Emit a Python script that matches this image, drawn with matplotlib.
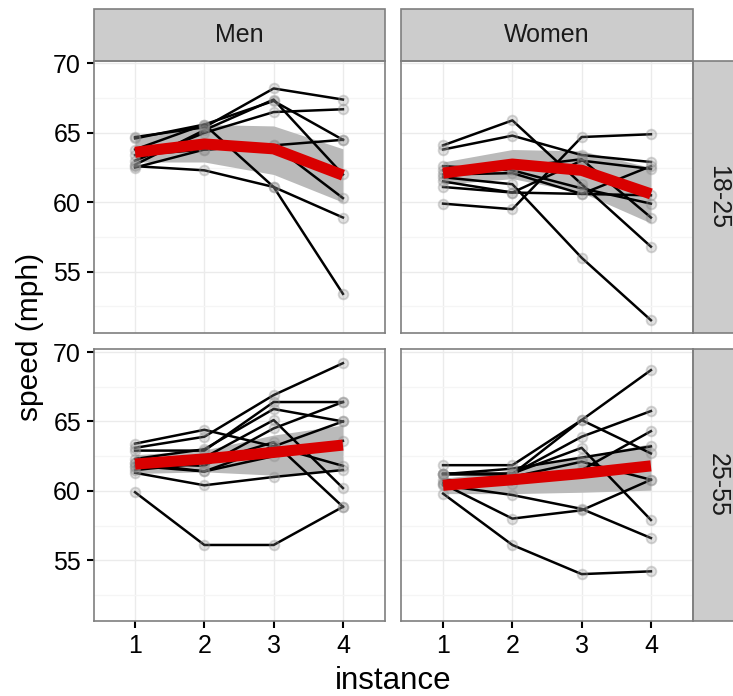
import matplotlib
matplotlib.use('Agg')
import matplotlib.pyplot as plt
from matplotlib.patches import Rectangle
import numpy as np

plt.rcParams['font.family'] = ['Liberation Sans', 'DejaVu Sans']

# data
instances = [1, 2, 3, 4]
genders = ['Men', 'Women']
ages = ['18-25', '25-55']

men_18_25 = [
    [64.7, 65.4, 68.2, 67.4],
    [64.6, 65.6, 67.3, 64.5],
    [62.7, 65.2, 67.4, 62.0],
    [63.0, 65.0, 66.5, 66.7],
    [63.4, 63.8, 64.1, 64.5],
    [62.5, 63.8, 64.1, 60.3],
    [62.6, 62.3, 61.1, 58.9],
    [63.8, 65.6, 61.1, 53.4],
]
women_18_25 = [
    [64.1, 65.9, 61.3, 56.8],
    [63.8, 64.8, 63.4, 62.9],
    [59.9, 59.5, 64.7, 64.9],
    [61.8, 61.3, 56.0, 51.5],
    [61.1, 60.7, 60.6, 60.5],
    [62.6, 62.3, 61.0, 59.9],
    [62.3, 62.5, 63.1, 58.9],
    [61.5, 60.7, 63.0, 62.4],
    [62.0, 62.1, 60.6, 62.6],
]
men_25_55 = [
    [59.9, 56.1, 56.1, 58.85],
    [63.4, 64.4, 63.2, 61.8],
    [63.1, 63.9, 66.9, 69.2],
    [62.9, 62.9, 66.4, 66.4],
    [62.3, 63.0, 65.9, 65.0],
    [61.7, 62.4, 65.1, 60.2],
    [61.3, 60.4, 61.0, 61.5],
    [62.0, 61.8, 64.5, 66.4],
    [61.8, 61.4, 62.5, 63.6],
    [62.0, 61.4, 63.2, 65.0],
    [61.5, 62.0, 63.5, 58.85],
]
women_25_55 = [
    [59.8, 56.1, 54.0, 54.2],
    [60.5, 58.0, 58.6, 60.8],
    [60.4, 59.7, 58.7, 56.6],
    [61.85, 61.85, 65.1, 68.7],
    [61.2, 61.2, 65.1, 62.7],
    [61.2, 61.2, 63.9, 65.75],
    [60.8, 60.5, 61.5, 64.3],
    [61.25, 61.25, 63.1, 57.9],
    [61.2, 61.6, 62.4, 63.2],
    [60.6, 61.0, 62.1, 60.8],
]

# summary line and band per panel
men_18_25_mean = [63.6, 64.2, 63.85, 61.95]
men_18_25_lo = [62.9, 62.9, 62.0, 60.0]
men_18_25_hi = [64.65, 65.6, 65.5, 63.85]
women_18_25_mean = [62.1, 62.75, 62.3, 60.6]
women_18_25_lo = [61.3, 61.7, 60.7, 58.5]
women_18_25_hi = [62.9, 63.8, 63.7, 62.5]
men_25_55_mean = [61.93, 62.3, 62.77, 63.3]
men_25_55_lo = [61.25, 61.37, 61.13, 61.49]
men_25_55_hi = [62.6, 62.94, 64.02, 64.74]
women_25_55_mean = [60.4, 60.8, 61.25, 61.8]
women_25_55_lo = [59.8, 59.8, 59.9, 60.05]
women_25_55_hi = [60.9, 61.5, 62.45, 63.4]

panels = {
    ('18-25', 'Men'): (men_18_25, men_18_25_mean, men_18_25_lo, men_18_25_hi),
    ('18-25', 'Women'): (women_18_25, women_18_25_mean, women_18_25_lo, women_18_25_hi),
    ('25-55', 'Men'): (men_25_55, men_25_55_mean, men_25_55_lo, men_25_55_hi),
    ('25-55', 'Women'): (women_25_55, women_25_55_mean, women_25_55_lo, women_25_55_hi),
}

W, H = 733, 696
fig = plt.figure(figsize=(W / 100, H / 100), dpi=100)

col_x = [93.5, 401.5]
col_w = 291.0
row_top = [60.7, 349.3]
row_h = 272.0
strip_h = 51.4
strip_w = 51.0
border = '#7f7f7f'

for r, age in enumerate(ages):
    for c, gender in enumerate(genders):
        ax = fig.add_axes([col_x[c] / W, 1 - (row_top[r] + row_h) / H, col_w / W, row_h / H])
        lines, mean, lo, hi = panels[(age, gender)]

        ax.fill_between(instances, lo, hi, color='#bababa', lw=0, zorder=2)
        for ys in lines:
            ax.plot(instances, ys, color='black', lw=1.8, zorder=3)
            ax.plot(instances, ys, 'o', ms=7, mfc=(0.55, 0.55, 0.55, 0.25),
                    mec=(0.55, 0.55, 0.55, 0.35), mew=1.3, zorder=4)
        ax.plot(instances, mean, color='#d90000', lw=8, zorder=5, solid_capstyle='butt')

        ax.set_xlim(0.4, 4.6)
        ax.set_ylim(50.6, 70.2)
        ax.set_xticks(instances)
        ax.set_yticks([55, 60, 65, 70])
        ax.set_yticks([52.5, 57.5, 62.5, 67.5], minor=True)
        ax.grid(True, which='major', color='#ebebeb', lw=1.0, zorder=0)
        ax.grid(True, which='minor', axis='y', color='#f5f5f5', lw=1.0, zorder=0)
        ax.set_axisbelow(True)
        for s in ax.spines.values():
            s.set_color(border)
            s.set_linewidth(1.2)
        ax.tick_params(which='major', length=5, width=1.5, color='black',
                       labelsize=18, labelcolor='black', pad=4)
        ax.tick_params(which='minor', length=0)
        if c == 1:
            ax.tick_params(axis='y', labelleft=False, length=0)
        if r == 0:
            ax.tick_params(axis='x', labelbottom=False, length=0)

        if r == 0:
            ax.add_patch(Rectangle((0, 1), 1, strip_h / row_h, transform=ax.transAxes,
                                   facecolor='#cccccc', edgecolor=border, lw=1.2, clip_on=False))
            ax.text(0.5, 1 + strip_h / row_h / 2, gender, transform=ax.transAxes,
                    ha='center', va='center', fontsize=18, color='#1a1a1a')
        if c == 1:
            ax.add_patch(Rectangle((1, 0), strip_w / col_w, 1, transform=ax.transAxes,
                                   facecolor='#cccccc', edgecolor=border, lw=1.2, clip_on=False))
            ax.text(1 + strip_w / col_w / 2, 0.5, age, transform=ax.transAxes, rotation=-90,
                    ha='center', va='center', fontsize=18, color='#1a1a1a')

fig.text(393 / W, 1 - 681 / H, 'instance', ha='center', va='center', fontsize=22.5)
fig.text(30 / W, 1 - 337 / H, 'speed (mph)', ha='center', va='center', rotation=90, fontsize=21.5)

fig.savefig('out.png', dpi=100)
